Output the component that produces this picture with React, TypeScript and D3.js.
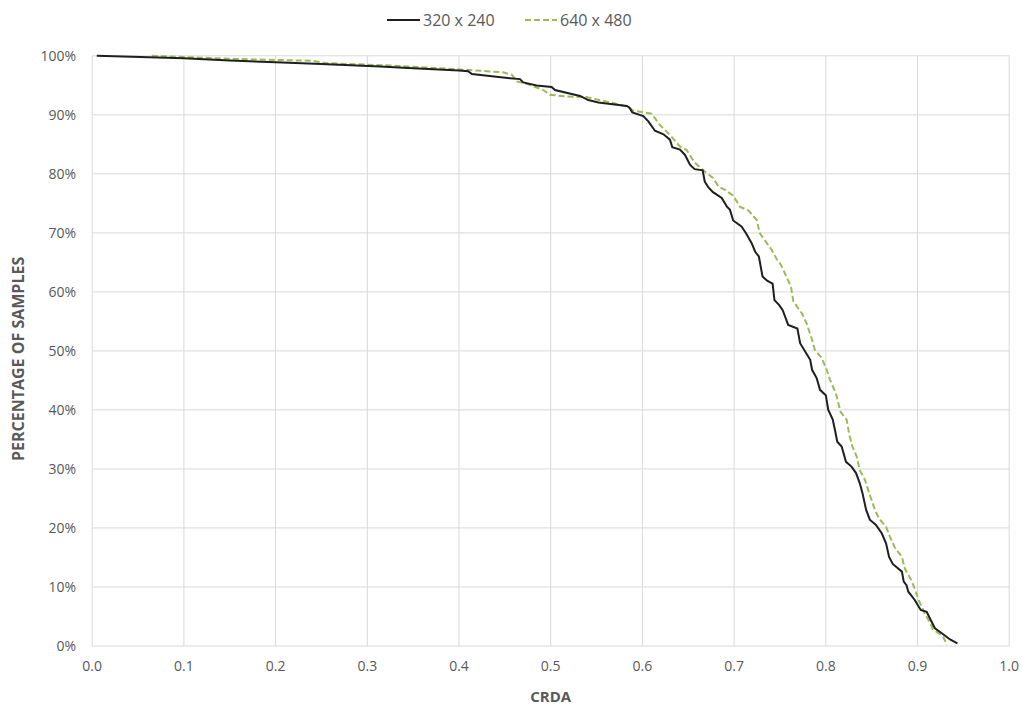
import React from "react";
import * as d3 from "d3";

const xTicks = [0, 0.1, 0.2, 0.3, 0.4, 0.5, 0.6, 0.7, 0.8, 0.9, 1.0];
const yTicks = [0, 10, 20, 30, 40, 50, 60, 70, 80, 90, 100];

const series320X = [0.005,0.1,0.15,0.2,0.25,0.314,0.35,0.4,0.41,0.414,0.4556,0.4665,0.47,0.4847,0.501,0.5047,0.532,0.541,0.552,0.583,0.586,0.589,0.601,0.6065,0.6137,0.623,0.63,0.6326,0.641,0.6465,0.652,0.657,0.6657,0.668,0.672,0.677,0.6865,0.692,0.6955,0.699,0.708,0.713,0.719,0.723,0.727,0.731,0.736,0.742,0.744,0.749,0.753,0.759,0.769,0.772,0.783,0.785,0.79,0.7937,0.8,0.8027,0.8075,0.81,0.8125,0.8173,0.822,0.828,0.833,0.837,0.84,0.844,0.848,0.8547,0.861,0.8657,0.869,0.873,0.883,0.885,0.888,0.89,0.897,0.9035,0.91,0.9144,0.919,0.928,0.9355,0.9435];
const series320Y = [100,99.6,99.2,98.9,98.6,98.2,97.9,97.5,97.4,96.9,96.2,96.05,95.5,94.97,94.7,94.2,93.2,92.5,92.1,91.5,91.2,90.4,89.8,88.9,87.3,86.7,85.8,84.5,84.1,83.2,81.5,80.8,80.6,78.7,77.7,76.9,75.9,74.5,73.9,72.1,71.1,69.95,68.3,66.8,66.0,62.6,61.9,61.4,58.6,57.8,56.9,54.4,53.8,51.3,48.5,46.8,45.4,43.4,42.5,40.0,38.4,36.6,34.6,33.8,31.2,30.4,29.3,27.6,25.9,23.05,21.4,20.5,19.1,17.4,15.1,13.9,12.6,10.9,10.3,9.2,7.8,6.1,5.8,4.4,3.0,2.0,1.1,0.45];

const series640X = [0.065,0.1,0.15,0.2,0.241,0.2557,0.325,0.4,0.448,0.4575,0.463,0.474,0.492,0.499,0.5175,0.539,0.568,0.583,0.59,0.61,0.619,0.63,0.641,0.648,0.657,0.668,0.677,0.683,0.69,0.699,0.7065,0.7155,0.7246,0.728,0.7355,0.741,0.747,0.751,0.757,0.762,0.7646,0.7737,0.779,0.785,0.788,0.7955,0.801,0.8046,0.811,0.816,0.8228,0.8256,0.829,0.8337,0.837,0.8428,0.848,0.8536,0.858,0.8657,0.87,0.8755,0.883,0.886,0.892,0.896,0.902,0.908,0.913,0.917,0.9245,0.928,0.932];
const series640Y = [100,99.8,99.5,99.3,99.15,98.75,98.35,97.7,97.2,96.8,95.65,95.25,94.2,93.4,93.1,93.0,92.0,91.4,90.7,90.2,88.3,86.6,84.6,84.07,81.9,80.4,79.3,77.85,77.3,76.3,74.4,73.8,72.2,69.95,68.3,67.1,65.4,64.6,62.6,60.9,58.4,56.4,54.7,51.9,50.2,48.8,46.8,45.1,42.8,39.7,38.3,35.8,33.8,32.1,29.8,28.1,25.6,23.05,21.6,20.2,18.5,16.6,15.1,13.2,11.5,10.1,7.5,5.5,4.1,2.8,2.0,1.6,0.2];

const seriesNames = ["320 x 240", "640 x 480"];

const W = 1023, H = 707;
const left = 92.2, right = 1009.2, top = 55.8, bottom = 646;
const FONT = "'Open Sans', Lato, sans-serif";

export default function App() {
  const x = d3.scaleLinear().domain([0, 1]).range([left, right]);
  const y = d3.scaleLinear().domain([0, 100]).range([bottom, top]);
  const line = d3.line<[number, number]>().x(d => x(d[0])).y(d => y(d[1]));
  const d320 = series320X.map((v, i) => [v, series320Y[i]] as [number, number]);
  const d640 = series640X.map((v, i) => [v, series640Y[i]] as [number, number]);

  return (
    <svg width={W} height={H} style={{ position: "absolute", left: 0, top: 0, background: "#fff" }} fontFamily={FONT}>
      <rect width={W} height={H} fill="#fff" />
      {xTicks.map(t => (
        <line key={"gx" + t} x1={x(t)} x2={x(t)} y1={top} y2={bottom} stroke="#d9d9d9" strokeWidth={1} />
      ))}
      {yTicks.map(t => (
        <line key={"gy" + t} x1={left} x2={right} y1={y(t)} y2={y(t)} stroke="#d9d9d9" strokeWidth={1} />
      ))}
      {yTicks.map(t => (
        <text key={"ty" + t} x={76} y={y(t)} dy="0.35em" textAnchor="end" fontSize={14} fill="#595959">{t + "%"}</text>
      ))}
      {xTicks.map(t => (
        <text key={"tx" + t} x={x(t)} y={666} dy="0.35em" textAnchor="middle" fontSize={14} fill="#595959">{t.toFixed(1)}</text>
      ))}
      <text x={(left + right) / 2} y={697} dy="0.35em" textAnchor="middle" fontSize={15} fontWeight="bold" fill="#595959">CRDA</text>
      <text transform={`translate(18,${(top + bottom) / 2 + 8}) rotate(-90)`} dy="0.35em" textAnchor="middle" fontSize={16} fontWeight="bold" fill="#595959">PERCENTAGE OF SAMPLES</text>

      <path d={line(d640) || ""} fill="none" stroke="#9bbb59" strokeWidth={2} strokeDasharray="6,3" />
      <path d={line(d320) || ""} fill="none" stroke="#1f1f1f" strokeWidth={2} />

      <line x1={387} x2={420} y1={20} y2={20} stroke="#1f1f1f" strokeWidth={2} />
      <text x={423} y={20} dy="0.35em" fontSize={16} fill="#595959">{seriesNames[0]}</text>
      <line x1={525} x2={557} y1={20} y2={20} stroke="#9bbb59" strokeWidth={2} strokeDasharray="6,3" />
      <text x={560} y={20} dy="0.35em" fontSize={16} fill="#595959">{seriesNames[1]}</text>
    </svg>
  );
}
